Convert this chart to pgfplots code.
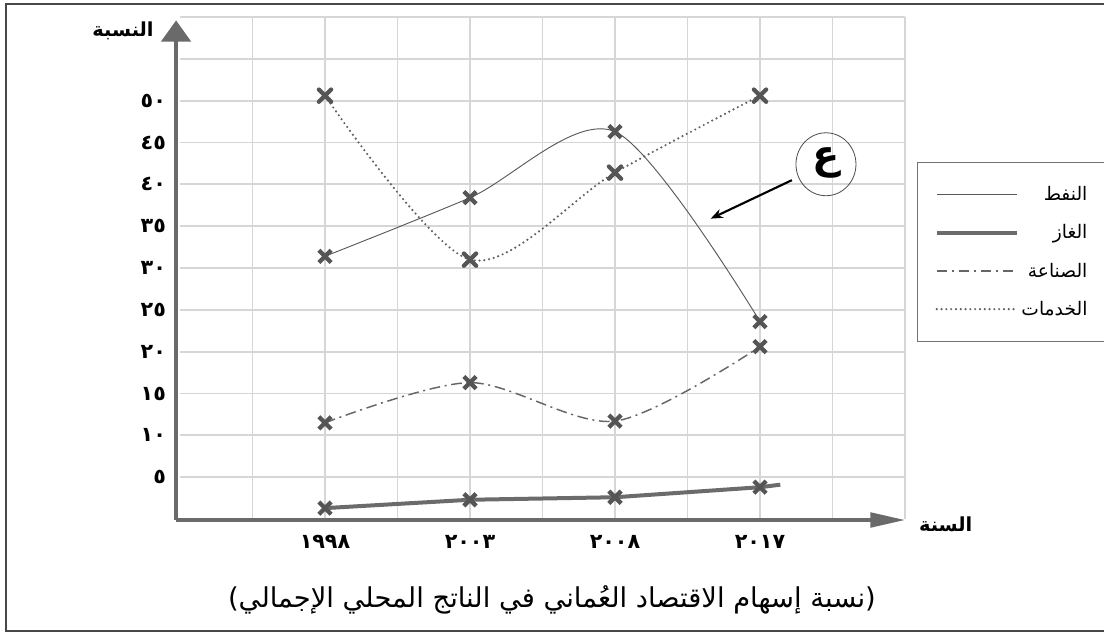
\documentclass[border=0pt]{standalone}
\usepackage{pgfplots}
\pgfplotsset{compat=1.18}
\usepackage{fontspec}
\usetikzlibrary{arrows.meta}
\TeXXeTstate=1
\newfontfamily\arabicfont[Script=Arabic]{DejaVu Sans}
\definecolor{gridc}{HTML}{D6D6D6}
\definecolor{axc}{HTML}{6A6A6A}
\definecolor{mkc}{HTML}{555555}
\begin{document}
\begin{tikzpicture}
\useasboundingbox (0,0) rectangle (828pt,474.75pt);
\clip (0,0) rectangle (828pt,474.75pt);
\draw[line width=1.6pt, color=black!72] (832pt,471.75pt) -- (4.5pt,471.75pt) -- (4.5pt,1.5pt) -- (832pt,1.5pt);
\begin{axis}[
  at={(135pt,85.5pt)}, anchor=south west,
  scale only axis, width=543.75pt, height=376.5pt,
  xmin=-1, xmax=4, ymin=0, ymax=60,
  axis line style={draw=none},
  xtick={0,1,2,3}, xticklabels={١٩٩٨,٢٠٠٣,٢٠٠٨,٢٠١٧},
  minor xtick={-0.5,0.5,1.5,2.5,3.5,4},
  ytick={5,10,...,50}, yticklabels={٥,١٠,١٥,٢٠,٢٥,٣٠,٣٥,٤٠,٤٥,٥٠},
  minor ytick={55,60},
  grid=both,
  major grid style={line width=1.3pt, color=gridc},
  minor grid style={line width=1.3pt, color=gridc},
  major tick length=0pt, minor tick length=0pt,
  tick label style={font=\arabicfont\bfseries\fontsize{15.5}{15.5}\selectfont},
  xticklabel style={yshift=-9pt},
  yticklabel style={xshift=-7pt},
  clip=false,
  legend style={at={(1.0166,0.711)}, anchor=north west, draw=black!55, line width=0.6pt,
    fill=white, inner xsep=13pt, inner ysep=16pt, row sep=12.5pt,
    font=\arabicfont\fontsize{14}{14}\selectfont, cells={anchor=east}},
  legend image code/.code={\draw[#1] (0pt,0pt) -- (60pt,0pt);},
]
% axis arrows
\draw[line width=3pt, color=axc, -{Triangle[width=22pt,length=16pt]}] (axis cs:-1.027,-0.12) -- (axis cs:-1.027,59.6);
\draw[line width=2.4pt, color=axc, -{Triangle[width=11pt,length=26pt]}] (axis cs:-1.027,-0.12) -- (axis cs:4.0,-0.12);

\addplot[color=black!65, line width=0.7pt, smooth, mark=x, mark size=6.5pt,
  mark options={solid, line width=3.2pt, color=mkc}]
  coordinates {(0,31.4) (1,38.4) (2,46.3) (3,23.6)};
\addlegendentry{النفط}
\addplot[color=black!58, line width=3pt, mark=x, mark size=6.5pt, mark indices={1,2,3,4},
  mark options={solid, line width=3.2pt, color=mkc}]
  coordinates {(0,1.3) (1,2.3) (2,2.6) (3,3.8) (3.14,4.1)};
\addlegendentry{الغاز}
\addplot[color=black!60, line width=1.1pt, smooth, dash pattern=on 8pt off 3.5pt on 1.5pt off 3.5pt,
  mark=x, mark size=6.5pt, mark options={solid, line width=3.2pt, color=mkc}]
  coordinates {(0,11.5) (1,16.3) (2,11.7) (3,20.6)};
\addlegendentry{الصناعة}
\addplot[color=black!62, line width=1.8pt, smooth, line cap=round, dash pattern=on 0pt off 3.6pt,
  mark=x, mark size=6.5pt, mark options={solid, line width=3.2pt, color=mkc}]
  coordinates {(0,50.6) (1,31.0) (2,41.4) (3,50.6)};
\addlegendentry{الخدمات}

% annotation
\draw[line width=0.6pt, color=black!70] (axis cs:3.455,42.4) ellipse [x radius=22.5pt, y radius=23.6pt];
\node[font=\arabicfont\bfseries\fontsize{30}{30}\selectfont] at (axis cs:3.455,42.6) {ع};
\draw[line width=1.6pt, -{Stealth[length=9pt,width=7pt]}] (axis cs:3.22,40.5) -- (axis cs:2.66,35.9);

% axis titles
\node[anchor=east, font=\arabicfont\bfseries\fontsize{14.5}{14.5}\selectfont] at (axis cs:-1.15,58.3) {النسبة};
\node[anchor=west, font=\arabicfont\bfseries\fontsize{14.5}{14.5}\selectfont] at (axis cs:4.065,-0.6) {السنة};
\end{axis}
\node[font=\arabicfont\fontsize{20.5}{20.5}\selectfont] at (414pt,24.75pt) {\beginR(نسبة إسهام الاقتصاد العُماني في الناتج المحلي الإجمالي)\endR};
\end{tikzpicture}
\end{document}
